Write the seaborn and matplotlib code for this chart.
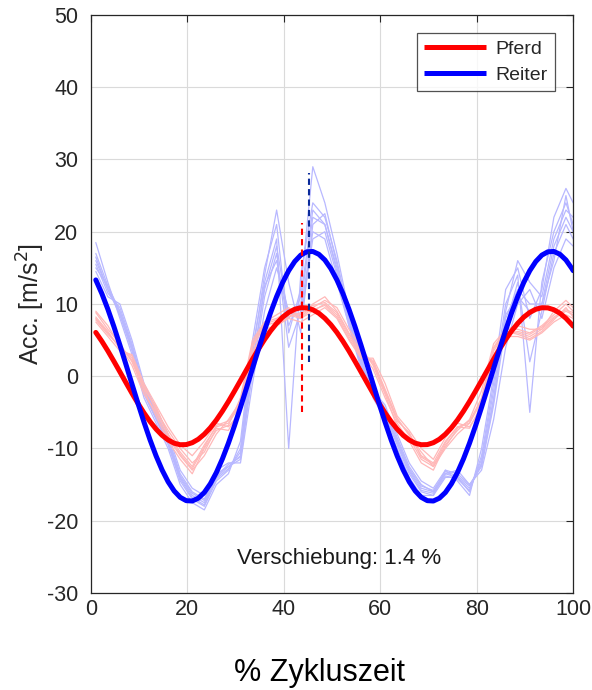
import numpy as np
import pandas as pd
import matplotlib
matplotlib.use("Agg")
import matplotlib.pyplot as plt
from matplotlib import font_manager
import seaborn as sns

# ---------------- data ----------------
# individual cycles (thin lines), sampled every 2.5 % of the cycle
x_pts = [1, 3.5, 6, 8.5, 11, 13.5, 16, 18.5, 21, 23.5, 26, 28.5, 31, 33.5, 36, 38.5,
         41, 43.5, 46, 48.5, 51, 53.5, 56, 58.5, 61, 63.5, 66, 68.5, 71, 73.5, 76, 78.5,
         81, 83.5, 86, 88.5, 91, 93.5, 96, 98.5, 100]

pferd_r1 = [8.0, 6.0, 4.0, 2.5, -1.5, -4.5, -8.0, -10.5, -12.5, -9.5, -7.0, -6.5, -4.0, 4.0, 7.0, 7.5, 8.5, 8.0, 9.0, 10.0, 8.5, 5.5, 3.0, 2.0, -2.0, -6.0, -8.0, -11.0, -12.0, -9.0, -7.0, -6.5, -3.5, 3.5, 6.0, 6.0, 5.5, 6.5, 8.0, 9.0, 8.5]
pferd_r2 = [8.8, 6.5, 4.5, 2.0, -2.0, -5.5, -9.0, -11.5, -13.5, -10.0, -7.5, -6.8, -3.0, 5.0, 7.5, 8.0, 9.0, 8.5, 10.0, 11.0, 9.0, 6.0, 3.5, 1.0, -3.0, -6.5, -9.0, -12.0, -13.0, -9.5, -7.5, -6.0, -2.0, 4.5, 6.5, 6.5, 6.0, 7.0, 8.5, 10.0, 9.0]
pferd_r3 = [7.5, 5.5, 3.5, 3.0, -1.0, -4.0, -7.0, -9.5, -11.0, -9.0, -6.5, -7.0, -5.0, 3.0, 6.5, 7.0, 8.0, 7.5, 8.5, 9.5, 8.0, 5.0, 2.5, 2.5, -1.0, -5.5, -7.5, -10.0, -11.5, -8.5, -6.5, -7.0, -4.5, 2.5, 5.5, 5.5, 5.0, 6.0, 7.5, 8.5, 8.0]
pferd_r4 = [9.0, 7.0, 4.2, 1.5, -2.5, -5.0, -8.5, -11.0, -13.0, -11.0, -8.0, -6.0, -3.5, 4.5, 7.5, 8.5, 9.5, 8.0, 9.5, 10.5, 9.5, 6.5, 4.0, 1.5, -2.5, -7.0, -8.5, -11.5, -12.5, -10.0, -8.0, -6.5, -3.0, 4.0, 6.5, 7.0, 6.5, 6.5, 9.0, 10.5, 9.5]
pferd_r5 = [8.2, 6.2, 3.8, 2.8, -1.2, -4.8, -7.5, -10.0, -12.0, -10.5, -7.2, -7.5, -4.5, 3.5, 6.0, 7.0, 8.2, 8.8, 9.2, 9.8, 8.2, 5.2, 2.8, 2.2, -1.8, -5.8, -8.2, -10.5, -12.5, -9.2, -7.0, -7.2, -4.0, 3.0, 5.8, 6.2, 5.8, 6.8, 8.2, 9.2, 8.8]
pferd_r6 = [7.8, 5.8, 4.2, 2.2, -1.8, -4.2, -8.2, -10.8, -12.8, -9.8, -6.8, -6.2, -3.8, 4.2, 7.2, 7.8, 8.8, 8.2, 9.8, 10.2, 8.8, 5.8, 3.2, 1.8, -2.2, -6.2, -7.8, -11.2, -12.2, -9.8, -7.2, -6.2, -3.2, 3.8, 6.2, 5.8, 5.2, 6.2, 7.8, 9.5, 8.2]

reiter_r1 = [16.0, 12.0, 9.0, 4.0, -2.0, -5.5, -9.0, -14.0, -16.5, -17.5, -14.0, -12.5, -11.0, 2.0, 12.0, 18.0, 8.0, 10.0, 22.0, 21.0, 15.0, 8.0, 2.0, -2.0, -5.0, -9.0, -13.0, -15.5, -16.0, -13.5, -14.0, -15.5, -12.0, -3.0, 8.0, 12.0, 10.0, 10.0, 18.0, 22.0, 20.0]
reiter_r2 = [18.5, 13.0, 8.0, 3.0, -3.0, -6.5, -10.0, -15.0, -17.5, -18.5, -15.0, -13.5, -9.0, 5.0, 15.0, 21.0, 6.0, 12.0, 29.0, 24.0, 17.0, 9.0, 3.0, -3.0, -6.0, -10.0, -14.0, -16.5, -16.5, -13.0, -14.5, -16.5, -10.0, 0.0, 12.0, 15.0, 8.0, 12.0, 22.0, 26.0, 24.0]
reiter_r3 = [14.5, 11.0, 10.0, 5.0, -1.0, -4.5, -8.0, -13.0, -15.5, -16.5, -13.0, -12.0, -12.0, -1.0, 9.0, 15.0, 9.0, 8.0, 19.0, 20.0, 14.0, 7.0, 1.0, -1.5, -4.5, -8.0, -12.0, -14.5, -15.5, -13.0, -13.5, -15.0, -13.0, -6.0, 4.0, 10.0, 12.0, 8.0, 15.0, 19.0, 18.0]
reiter_r4 = [17.0, 12.5, 8.5, 3.5, -2.5, -6.0, -9.5, -14.5, -17.0, -18.0, -14.5, -13.0, -10.0, 4.0, 13.0, 19.0, -10.0, 14.0, 24.0, 22.0, 16.0, 8.5, 2.5, -2.5, -5.5, -9.5, -13.5, -16.0, -16.5, -14.0, -14.0, -16.0, -11.0, -1.0, 10.0, 14.0, -5.0, 13.0, 20.0, 24.0, 21.0]
reiter_r5 = [15.5, 11.5, 9.5, 4.5, -1.5, -5.0, -8.5, -13.5, -16.0, -17.0, -13.5, -12.5, -11.5, 0.5, 11.0, 17.0, 4.0, 9.0, 20.0, 19.0, 13.0, 7.0, 1.5, -2.0, -4.0, -8.5, -12.5, -15.0, -16.0, -13.5, -13.0, -15.0, -12.5, -4.0, 7.0, 13.0, 2.0, 9.0, 17.0, 21.0, 19.0]
reiter_r6 = [16.5, 12.0, 8.5, 3.8, -2.2, -5.8, -9.2, -14.2, -16.8, -17.8, -14.2, -12.8, -10.5, 3.0, 14.0, 23.0, 13.0, 6.0, 21.0, 22.5, 15.5, 8.0, 2.2, -2.2, -5.2, -9.2, -13.2, -15.8, -16.2, -13.8, -14.2, -15.8, -11.5, -2.0, 9.0, 16.0, 13.0, 11.0, 19.0, 23.0, 22.0]
reiter_r7 = [15.0, 12.5, 9.0, 4.2, -1.8, -5.2, -8.8, -13.8, -16.2, -17.2, -13.8, -12.2, -11.2, 1.5, 12.5, 16.0, 7.0, 11.0, 23.0, 21.0, 14.5, 7.5, 1.8, -1.8, -4.8, -8.8, -12.8, -15.2, -15.8, -13.2, -13.8, -15.2, -12.2, -3.5, 8.5, 11.0, 9.0, 10.0, 16.0, 25.0, 20.0]

# mean curves (thick lines), sampled every 1.25 % of the cycle
mean_x = [1, 2.25, 3.5, 4.75, 6, 7.25, 8.5, 9.75, 11, 12.25, 13.5, 14.75, 16, 17.25, 18.5, 19.75,
          21, 22.25, 23.5, 24.75, 26, 27.25, 28.5, 29.75, 31, 32.25, 33.5, 34.75, 36, 37.25,
          38.5, 39.75, 41, 42.25, 43.5, 44.75, 46, 47.25, 48.5, 49.75,
          51, 52.25, 53.5, 54.75, 56, 57.25, 58.5, 59.75, 61, 62.25, 63.5, 64.75, 66, 67.25,
          68.5, 69.75, 71, 72.25, 73.5, 74.75, 76, 77.25, 78.5, 79.75, 81, 82.25, 83.5, 84.75,
          86, 87.25, 88.5, 89.75, 91, 92.25, 93.5, 94.75, 96, 97.25, 98.5, 99.75, 100]
pferd_mean = [6.06, 4.84, 3.50, 2.07, 0.60, -0.89, -2.36, -3.77, -5.09, -6.28, -7.32, -8.18, -8.83, -9.27, -9.48, -9.46, -9.20, -8.72, -8.02, -7.13,
              -6.06, -4.84, -3.50, -2.07, -0.60, 0.89, 2.36, 3.77, 5.09, 6.28, 7.32, 8.18, 8.83, 9.27, 9.48, 9.46, 9.20, 8.72, 8.02, 7.13,
              6.06, 4.84, 3.50, 2.07, 0.60, -0.89, -2.36, -3.77, -5.09, -6.28, -7.32, -8.18, -8.83, -9.27, -9.48, -9.46, -9.20, -8.72, -8.02, -7.13,
              -6.06, -4.84, -3.50, -2.07, -0.60, 0.89, 2.36, 3.77, 5.09, 6.28, 7.32, 8.18, 8.83, 9.27, 9.48, 9.46, 9.20, 8.72, 8.02, 7.13,
              6.93]
reiter_mean = [13.33, 11.44, 9.27, 6.87, 4.30, 1.63, -1.09, -3.77, -6.37, -8.81, -11.03, -12.98, -14.61, -15.88, -16.76, -17.22, -17.27, -16.88, -16.09, -14.89,
               -13.33, -11.44, -9.27, -6.87, -4.30, -1.63, 1.09, 3.77, 6.37, 8.81, 11.03, 12.98, 14.61, 15.88, 16.76, 17.22, 17.27, 16.88, 16.09, 14.89,
               13.33, 11.44, 9.27, 6.87, 4.30, 1.63, -1.09, -3.77, -6.37, -8.81, -11.03, -12.98, -14.61, -15.88, -16.76, -17.22, -17.27, -16.88, -16.09, -14.89,
               -13.33, -11.44, -9.27, -6.87, -4.30, -1.63, 1.09, 3.77, 6.37, 8.81, 11.03, 12.98, 14.61, 15.88, 16.76, 17.22, 17.27, 16.88, 16.09, 14.89,
               14.61]

pferd_peak_x = 43.8
reiter_peak_x = 45.2
pferd_line_y = [-4.9, 21.2]
reiter_line_y = [2.0, 28.1]

xticks = [0, 20, 40, 60, 80, 100]
yticks = [-30, -20, -10, 0, 10, 20, 30, 40, 50]
shift_text = "Verschiebung: 1.4 %"

# ---------------- build tables ----------------
def long_table(traces, prefix):
    rows = []
    for i, tr in enumerate(traces):
        for xv, yv in zip(x_pts, tr):
            rows.append({"x": xv, "y": yv, "trace": f"{prefix}{i}"})
    return pd.DataFrame(rows)

df_pferd = long_table([pferd_r1, pferd_r2, pferd_r3, pferd_r4, pferd_r5, pferd_r6], "p")
df_reiter = long_table([reiter_r1, reiter_r2, reiter_r3, reiter_r4, reiter_r5, reiter_r6, reiter_r7], "r")
df_mean = pd.DataFrame({"x": mean_x, "Pferd": pferd_mean, "Reiter": reiter_mean})

# ---------------- plot ----------------
sns.set_style("white")
plt.rcParams["font.family"] = ["Liberation Sans", "DejaVu Sans"]
plt.rcParams["axes.unicode_minus"] = False

available = {f.name for f in font_manager.fontManager.ttflist}
narrow = "Liberation Sans Narrow" in available

fig = plt.figure(figsize=(5.92, 6.90), dpi=100)
ax = fig.add_axes([0.1537, 0.1406, 0.8145, 0.8377])

sns.lineplot(data=df_reiter, x="x", y="y", units="trace", estimator=None,
             color="#b8b8ff", linewidth=0.9, ax=ax, legend=False)
sns.lineplot(data=df_pferd, x="x", y="y", units="trace", estimator=None,
             color="#ffb8b8", linewidth=0.9, ax=ax, legend=False)

sns.lineplot(data=df_mean, x="x", y="Pferd", color="#ff0000", linewidth=3.6,
             ax=ax, label="Pferd")
sns.lineplot(data=df_mean, x="x", y="Reiter", color="#0000ff", linewidth=3.6,
             ax=ax, label="Reiter")

ax.plot([pferd_peak_x, pferd_peak_x], pferd_line_y, color="#ff0000",
        linestyle=(0, (3, 2)), linewidth=1.5)
ax.plot([reiter_peak_x, reiter_peak_x], reiter_line_y, color="#0a2a9a",
        linestyle=(0, (3, 2)), linewidth=1.5)

ax.text(51.5, -25.2, shift_text, ha="center", va="center", fontsize=16, color="#1a1a1a")

ax.set_xlim(0, 100)
ax.set_ylim(-30, 50)
ax.set_xticks(xticks)
ax.set_yticks(yticks)
ax.tick_params(direction="in", length=5, width=0.8, labelsize=15.5, colors="#262626",
               top=True, right=True)
ax.tick_params(axis="y", pad=9)
ax.tick_params(axis="x", pad=4)
ax.grid(True, color="#dadada", linewidth=0.8)
ax.set_axisbelow(True)
for s in ax.spines.values():
    s.set_color("#262626")
    s.set_linewidth(0.9)

ax.set_xlabel("")
ax.set_ylabel("Acc. [m/s$^2$]", fontsize=18, color="#262626", labelpad=0)

if narrow:
    fig.text(319 / 592, 1 - 681 / 690, "% Zykluszeit", ha="center", va="baseline",
             fontsize=26, family=["Liberation Sans Narrow", "DejaVu Sans"], color="black")
else:
    fig.text(319 / 592, 1 - 681 / 690, "% Zykluszeit", ha="center", va="baseline",
             fontsize=22, color="black")

leg = ax.legend(loc="upper right", fontsize=14, frameon=True, fancybox=False,
                edgecolor="#262626", handlelength=3.2, borderaxespad=0.95,
                borderpad=0.35, labelspacing=0.45, handletextpad=0.5)
leg.get_frame().set_linewidth(0.9)
for h in leg.get_lines():
    h.set_linewidth(3.6)
    h.set_solid_capstyle("butt")

fig.savefig("out.png", dpi=100)
